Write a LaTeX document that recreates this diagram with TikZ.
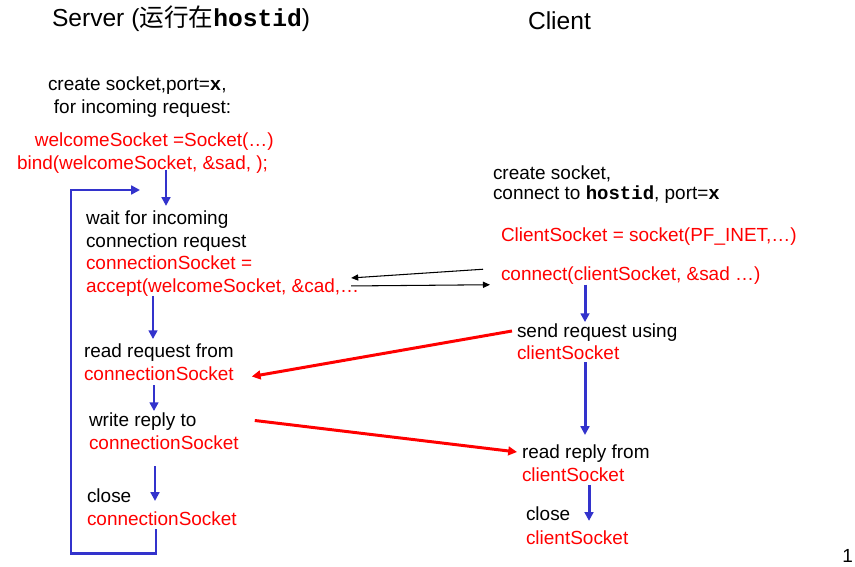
\documentclass[tikz,border=0pt]{standalone}
\usepackage{fontspec}
\setmainfont{Liberation Sans}
\newfontfamily\cjk{Noto Sans CJK SC}
\newfontfamily\courfont{Liberation Mono}
\usetikzlibrary{arrows.meta, calc}
\definecolor{flowblue}{RGB}{51,51,204}
\newcommand{\code}[1]{{\courfont\bfseries #1}}

\begin{document}
\begin{tikzpicture}[x=0.02cm, y=-0.02cm,
    every node/.style={inner sep=0, outer sep=0, align=left,
      font=\fontsize{10.8}{12.8}\selectfont,
      execute at begin node=\strut, execute at end node=\strut},
    txt/.style={anchor=north west},
    call/.style={txt, text=red},
    head/.style={anchor=base west, font=\fontsize{14}{16}\selectfont},
    flow/.style={draw=flowblue, line width=1.7pt, -{Triangle[length=5pt,width=5pt]}},
    msg/.style={draw=red, line width=1.7pt, -{Triangle[length=5pt,width=5pt]}},
    sig/.style={draw=black, line width=0.6pt, -{Triangle[length=4pt,width=3.5pt]}}]

  \useasboundingbox (0,0) rectangle (855,567);

  \node[head] (server) at (52,27) {Server ({\cjk 运行在}\code{hostid})};
  \node[head] (client) at (528,30) {Client};

  % server side
  \node[txt] (screate) at (48,77) {create socket,port=\code{x},\\\hspace*{3.4pt}for incoming request:};
  \node[call] (bind) at (17,133) {\hspace*{10.2pt}welcomeSocket =Socket(…)\\bind(welcomeSocket, \&sad, );};
  \node[txt] (wait) at (86,211) {wait for incoming\\connection request\\\textcolor{red}{connectionSocket =}\\\textcolor{red}{accept(welcomeSocket, \&cad,…}};
  \node[txt] (read) at (84,344) {read request from\\\textcolor{red}{connectionSocket}};
  \node[txt] (write) at (89,413) {write reply to\\\textcolor{red}{connectionSocket}};
  \node[txt] (sclose) at (87,489) {close\\\textcolor{red}{connectionSocket}};
  \coordinate (loopend) at (140,190);

  % client side
  \node[txt, font=\fontsize{10.8}{11.3}\selectfont] (ccreate) at (493,165.5) {create socket,\\connect to \code{hostid}, port=\code{x}};
  \node[call] (csock) at (501,226) {ClientSocket = socket(PF\_INET,…)};
  \node[call] (connect) at (501,265) {connect(clientSocket, \&sad …)};
  \node[txt] (send) at (517,323.5) {send request using\\\textcolor{red}{clientSocket}};
  \node[txt] (cread) at (522,445) {read reply from\\\textcolor{red}{clientSocket}};
  \node[txt, font=\fontsize{10.8}{13.6}\selectfont] (cclose) at (526,507) {close\\\textcolor{red}{clientSocket}};

  \node[anchor=base east, execute at begin node={}, execute at end node={}] (page) at (853,562) {1};

  \draw[flow, shorten <=-3.4pt, shorten >=2.9pt] (bind.south -| 166,0) -- (wait.north -| 166,0);
  \draw[flow, shorten <=-1.7pt, shorten >=2.8pt] (wait.south -| 153,0) -- (read.north -| 153,0);
  \draw[flow, shorten <=-1.1pt, shorten >=1.1pt] (read.south -| 154,0) -- (write.north -| 154,0);
  \draw[flow, shorten <=5.7pt, shorten >=-6.8pt] (write.south -| 155,0) -- (sclose.north -| 155,0);
  \draw[flow, shorten <=-1.7pt] (sclose.south -| 156,0) -- ++(0,22) -- ++(-85,0) |- (loopend);

  \draw[flow, shorten <=-1.7pt, shorten >=0.8pt] (connect.south -| 585,0) -- (send.north -| 585,0);
  \draw[flow, shorten <=-2.5pt, shorten >=5.7pt] (send.south -| 585,0) -- (cread.north -| 585,0);
  \draw[flow, shorten <=-1.7pt, shorten >=-7.9pt] (cread.south -| 589,0) -- (cclose.north -| 589,0);

  \draw[msg] ($(send.north west)+(-5,7.5)$) -- ($(read.east)+(18,11)$);
  \draw[msg] ($(write.east)+(16,-14)$) -- ($(cread.north west)+(-5,7)$);
  \draw[sig] ($(connect.west)+(-18,-7)$) -- ($(wait.south east)+(-8,-21)$);
  \draw[sig] ($(wait.south east)+(-8,-13)$) -- ($(connect.west)+(-11,8.5)$);
\end{tikzpicture}
\end{document}
